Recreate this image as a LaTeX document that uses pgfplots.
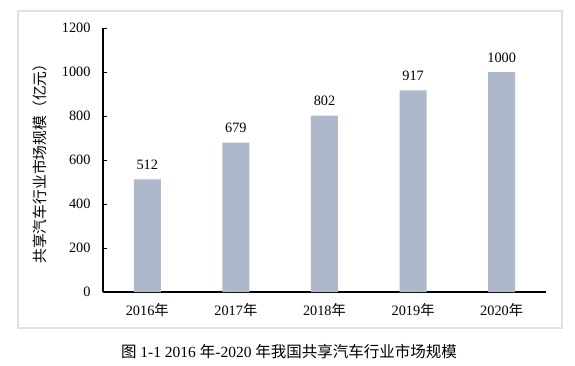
\documentclass[border=0pt]{standalone}
\usepackage{pgfplots}
\pgfplotsset{compat=1.18}
\usepackage{fontspec}
\setmainfont{Liberation Serif}
\newfontfamily\cjk{Noto Sans CJK SC}
\definecolor{barc}{HTML}{ADB8CA}
\begin{document}
\begin{tikzpicture}[x=1pt,y=1pt]
\path (-103,-73) rectangle (472,292);
\draw[black!12, line width=1.2pt] (-85,-36) rectangle (459,281);
\begin{axis}[
  scale only axis, width=443pt, height=264pt,
  at={(0,0)}, anchor=south west,
  xmin=-0.5, xmax=4.5, ymin=0, ymax=1200,
  axis lines=left, axis line style={-, line width=1.2pt},
  ytick={0,200,...,1200},
  xtick={0,1,2,3,4},
  xticklabels={2016{\cjk 年},2017{\cjk 年},2018{\cjk 年},2019{\cjk 年},2020{\cjk 年}},
  extra x ticks={0.5,1.5,2.5,3.5,4.5}, extra x tick labels={},
  extra x tick style={major tick length=4pt, tick style={black, line width=0.6pt}},
  x tick style={draw=none},
  y tick style={black, line width=0.8pt},
  major tick length=4pt, tick align=inside,
  /pgf/number format/assume math mode=true,
  /pgf/number format/1000 sep={},
  tick label style={font=\fontsize{14.3}{16}\selectfont},
  yticklabel style={xshift=-9pt},
  xticklabel style={yshift=-4pt},
  ylabel={\cjk\fontsize{14.8}{16}\selectfont 共享汽车行业市场规模（亿元）},
  ylabel style={at={(axis description cs:-0.142,0.5)}, anchor=center, rotate=0},
  ybar, bar width=27pt,
  nodes near coords,
  nodes near coords style={font=\fontsize{14.3}{16}\selectfont, yshift=6pt, /pgf/number format/assume math mode=true},
  clip=false,
]
\addplot[fill=barc, draw=none] coordinates {(0,512) (1,679) (2,802) (3,917) (4,1000)};
\end{axis}
\node[font=\fontsize{15.5}{17}\selectfont] at (186,-60) {{\cjk 图} 1-1 2016 {\cjk 年}-2020 {\cjk 年我国共享汽车行业市场规模}};
\end{tikzpicture}
\end{document}
